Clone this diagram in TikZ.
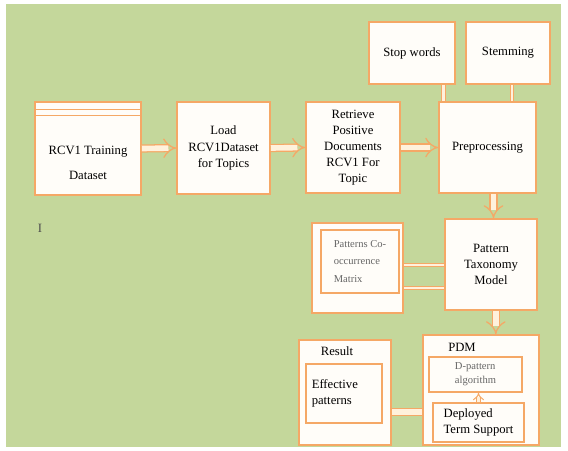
\documentclass[tikz,border=0pt]{standalone}
\usepackage{fontspec}
\setmainfont{Liberation Serif}
\usetikzlibrary{shapes,arrows.meta,positioning}
\definecolor{bggreen}{HTML}{C4D79B}
\definecolor{boxline}{HTML}{F5A866}
\definecolor{arrowfill}{HTML}{FFF1DC}
\definecolor{boxfill}{HTML}{FFFDF9}
\tikzstyle{block} = [rectangle, draw=boxline, fill=boxfill, line width=1.1pt, text centered, align=center, font=\fontsize{9}{11.5}\selectfont]
\tikzstyle{inner} = [rectangle, draw=boxline, fill=boxfill, line width=1.1pt, align=left, inner sep=4pt]
\tikzstyle{small} = [font=\fontsize{7.5}{12.5}\selectfont, text=black!60]
\tikzstyle{flow} = [draw=boxline, line width=0.9pt, double=arrowfill, double distance=4pt]
\tikzstyle{link} = [draw=boxline, line width=0.7pt, double=arrowfill, double distance=2pt]

\begin{document}
\begin{tikzpicture}[x=0.025cm, y=-0.025cm]
            \useasboundingbox[fill=white] (0,0) rectangle (568,450);
            \fill[bggreen] (6,4) rectangle (561,447);

            % top row
            \node[block, minimum width=2.65cm, minimum height=2.325cm] (rcv) at (88,148.5) {};
            \node[align=center, font=\fontsize{9}{18}\selectfont] (rcvtext) at (88,163) {RCV1 Training\\Dataset};
            \draw[boxline, line width=0.9pt] ([yshift=-6pt]rcv.north west) -- ([yshift=-6pt]rcv.north east);
            \draw[boxline, line width=0.9pt] ([yshift=-10pt]rcv.north west) -- ([yshift=-10pt]rcv.north east);
            \node[block, minimum width=2.325cm, minimum height=2.3cm] (load) at (223.5,148) {Load\\RCV1Dataset\\for Topics};
            \node[block, minimum width=2.35cm, minimum height=2.275cm] (retrieve) at (353,147.5) {Retrieve\\Positive\\Documents\\RCV1 For\\Topic};
            \node[block, minimum width=2.425cm, minimum height=2.275cm] (preproc) at (487.5,147.5) {Preprocessing};
            \node[block, minimum width=2.15cm, minimum height=1.55cm] (stopwords) at (412,53) {Stop words};
            \node[block, minimum width=2.1cm, minimum height=1.55cm] (stemming) at (508,53) {Stemming};

            % middle row
            \node[block, minimum width=2.3cm, minimum height=2.275cm] (ptm) at (491,264.5) {Pattern\\Taxonomy\\Model};
            \node[block, minimum width=2.275cm, minimum height=2.25cm] (cooc) at (357.5,268) {};
            \node[inner, small, minimum width=1.95cm, minimum height=1.575cm] (coocin) at (360,261.5) {Patterns Co-\\occurrence\\Matrix};

            % bottom row
            \node[block, minimum width=2.9cm, minimum height=2.75cm] (pdm) at (481,390) {};
            \node[font=\fontsize{9}{11}\selectfont] (pdmtitle) at (462,347) {PDM};
            \node[inner, small, minimum width=2.325cm, minimum height=0.875cm, font=\fontsize{7.5}{10}\selectfont] (dpattern) at (475.5,374.5) {D-pattern\\algorithm};
            \node[inner, minimum width=2.275cm, minimum height=0.975cm, font=\fontsize{9}{11}\selectfont] (deployed) at (478.5,422.5) {Deployed\\Term Support};
            \node[block, minimum width=2.3cm, minimum height=2.625cm] (result) at (345,392.5) {};
            \node[font=\fontsize{9}{11}\selectfont] (resulttitle) at (337,351) {Result};
            \node[inner, minimum width=1.9cm, minimum height=1.475cm, font=\fontsize{9}{11}\selectfont, anchor=north west, text width=1.6cm] (effective) at (305,363) {Effective\\patterns};

            \node[text=black!70, font=\fontsize{9}{11}\selectfont] (cursor) at (40,228) {I};

            \path [flow, -Implies] (rcv.east)      -- (load.west);
            \path [flow, -Implies] (load.east)     -- (retrieve.west);
            \path [flow, -Implies] (retrieve.east) -- (preproc.west);
            \path [flow, -Implies] ([xshift=0.15cm]preproc.south) -- ([xshift=0.15cm]preproc.south |- ptm.north);
            \path [flow, -Implies] ([xshift=0.12cm]ptm.south) -- ([xshift=0.12cm]ptm.south |- pdm.north);
            \path [flow] ([yshift=-0.55cm]pdm.west) -- ([yshift=-0.55cm]pdm.west -| result.east);
            \path [link, -Implies] (deployed.north) -- (deployed.north |- dpattern.south);
            \path [link] ([xshift=4pt]preproc.north west) -- ([xshift=4pt]preproc.north west |- stopwords.south);
            \path [link] ([xshift=0.1cm]stemming.south) -- ([xshift=0.1cm]stemming.south |- preproc.north);
            \path [link] ([yshift=0.075cm]cooc.east) -- ([yshift=0.075cm]cooc.east -| ptm.west);
            \path [link] ([yshift=-0.5cm]cooc.east) -- ([yshift=-0.5cm]cooc.east -| ptm.west);
        \end{tikzpicture}
\end{document}
